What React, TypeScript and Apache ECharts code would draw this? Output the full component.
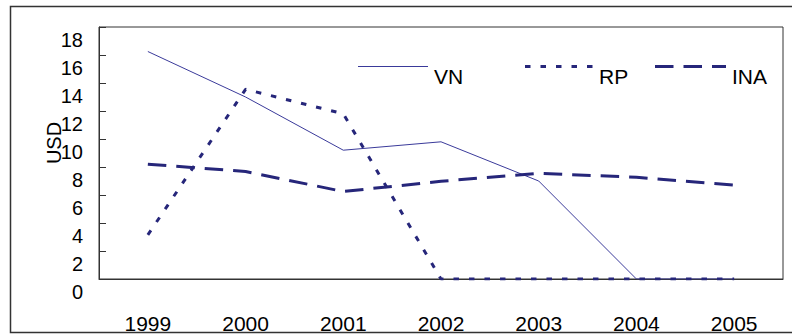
import React, { useEffect, useRef } from "react";
import * as echarts from "echarts";

const years = ["1999", "2000", "2001", "2002", "2003", "2004", "2005"];
const vn = [16.25, 13.0, 9.2, 9.8, 7.0, 0, 0];
const rp = [3.15, 13.55, 11.8, 0, 0, 0, 0];
const ina = [8.2, 7.68, 6.25, 6.98, 7.55, 7.27, 6.7];
const yTicks = { min: 0, max: 18, interval: 2 };
const seriesNames = ["VN", "RP", "INA"];

const FONT = "'Liberation Sans', Arial, sans-serif";
const NAVY = "#26267a";
const VN_COLOR = "#3a3a9a";

export default function App() {
  const ref = useRef<HTMLDivElement>(null);
  useEffect(() => {
    if (!ref.current) return;
    const chart = echarts.init(ref.current, undefined, { renderer: "svg" });

    const legendStyles = [
      { stroke: VN_COLOR, lineWidth: 1, lineDash: null as any },
      { stroke: NAVY, lineWidth: 3, lineDash: [5.5, 10] },
      { stroke: NAVY, lineWidth: 3, lineDash: [18.5, 10] },
    ];
    const legendX = [358, 525, 655];
    const legendW = [70, 68, 71];
    const legendGraphics: any[] = [];
    seriesNames.forEach((name, i) => {
      legendGraphics.push({
        type: "line",
        silent: true,
        shape: { x1: legendX[i], y1: 66.5, x2: legendX[i] + legendW[i], y2: 66.5 },
        style: {
          stroke: legendStyles[i].stroke,
          lineWidth: legendStyles[i].lineWidth,
          lineDash: legendStyles[i].lineDash,
        },
      });
      legendGraphics.push({
        type: "text",
        silent: true,
        x: legendX[i] + legendW[i] + 6,
        y: 76.5,
        style: {
          text: name,
          fontFamily: FONT,
          fontSize: 21,
          fill: "#000",
          verticalAlign: "middle",
          align: "left",
        },
      });
    });

    chart.setOption({
      animation: false,
      backgroundColor: "#fff",
      grid: { left: 99, top: 27, right: 9, bottom: 55, show: true, borderColor: "#333", borderWidth: 1 },
      xAxis: {
        type: "category",
        data: years,
        boundaryGap: true,
        axisLine: { lineStyle: { color: "#333", width: 1 } },
        axisTick: { inside: true, length: 6, lineStyle: { color: "#333" } },
        axisLabel: { fontFamily: FONT, fontSize: 21, color: "#000", margin: 34 },
      },
      yAxis: {
        type: "value",
        min: yTicks.min,
        max: yTicks.max,
        interval: yTicks.interval,
        name: "USD",
        nameLocation: "middle",
        nameRotate: 90,
        nameGap: 35,
        nameMoveOverlap: false,
        nameTextStyle: { fontFamily: FONT, fontSize: 20, color: "#000", padding: [0, 0, 0, 20] },
        axisLine: { show: true, lineStyle: { color: "#333", width: 1 } },
        axisTick: { show: true, inside: true, length: 7, lineStyle: { color: "#333" } },
        splitLine: { show: false },
        axisLabel: {
          fontFamily: FONT,
          fontSize: 20,
          color: "#000",
          margin: 16,
          verticalAlign: "top",
          lineHeight: 26,
        },
      },
      series: [
        {
          name: "VN",
          type: "line",
          data: vn,
          symbol: "none",
          lineStyle: { color: VN_COLOR, width: 1, type: "solid" },
          itemStyle: { color: VN_COLOR },
        },
        {
          name: "RP",
          type: "line",
          data: rp,
          symbol: "none",
          lineStyle: { color: NAVY, width: 3, type: [5.5, 10] },
          itemStyle: { color: NAVY },
        },
        {
          name: "INA",
          type: "line",
          data: ina,
          symbol: "none",
          lineStyle: { color: NAVY, width: 3, type: [18.5, 10] },
          itemStyle: { color: NAVY },
        },
      ],
      graphic: [
        ...legendGraphics,
        {
          type: "rect",
          silent: true,
          shape: { x: 10.5, y: 6.5, width: 800, height: 326 },
          style: { fill: "none", stroke: "#333", lineWidth: 1.5 },
          z: 100,
        },
      ],
    });
    return () => chart.dispose();
  }, []);
  return (
    <div
      ref={ref}
      style={{ position: "absolute", left: 0, top: 0, width: 792, height: 334 }}
    />
  );
}
